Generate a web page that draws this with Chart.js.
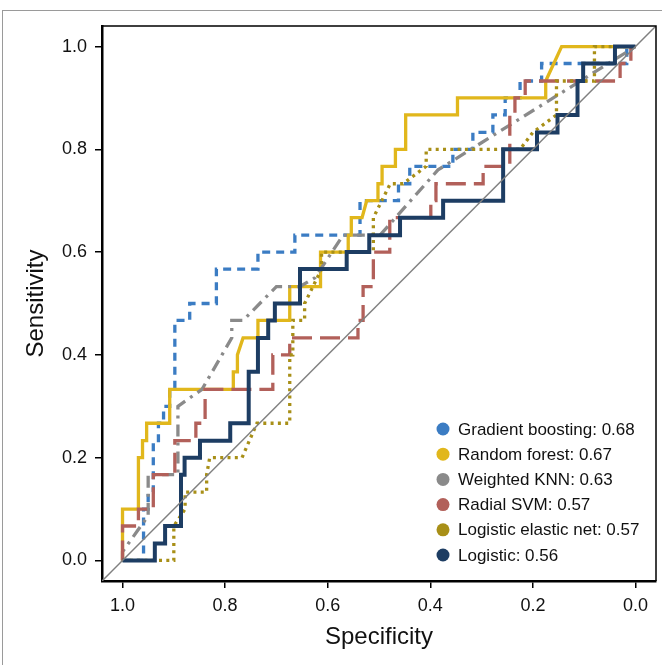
<!DOCTYPE html>
<html>
<head>
<meta charset="utf-8">
<script src="https://cdn.jsdelivr.net/npm/chart.js@4.4.1/dist/chart.umd.min.js"></script>
<style>
  html, body { margin: 0; padding: 0; background: #fff; }
  #wrap { position: relative; width: 662px; height: 665px; }
  #edge {
    position: absolute; left: 2px; top: 10px; right: 0; bottom: 0;
    border-top: 1px solid #9a9a9a; border-left: 1px solid #9a9a9a;
    pointer-events: none;
  }
</style>
</head>
<body>
<div id="wrap">
  <canvas id="rocChart" width="662" height="665"></canvas>
  <div id="edge"></div>
</div>
<script>
// ROC curves (specificity, sensitivity)
const modelNames = ["Gradient boosting", "Random forest", "Weighted KNN", "Radial SVM", "Logistic elastic net", "Logistic"];
const aucValues = [0.68, 0.67, 0.63, 0.57, 0.57, 0.56];
const modelColors = ["#3b7cc3", "#e1b71c", "#8a8a8a", "#b2605a", "#a88f17", "#1d3d63"];

const gbSpec = [1, 0.959, 0.959, 0.95, 0.95, 0.94, 0.94, 0.93, 0.93, 0.92, 0.92, 0.908, 0.908, 0.898, 0.898, 0.869, 0.869, 0.817, 0.817, 0.736, 0.736, 0.664, 0.664, 0.537, 0.537, 0.462, 0.462, 0.44, 0.44, 0.356, 0.356, 0.317, 0.317, 0.278, 0.278, 0.254, 0.254, 0.225, 0.225, 0.183, 0.183, 0.017, 0.017, 0];
const gbSens = [0, 0, 0.1, 0.1, 0.133, 0.133, 0.233, 0.233, 0.267, 0.267, 0.3, 0.3, 0.333, 0.333, 0.467, 0.467, 0.5, 0.5, 0.567, 0.567, 0.6, 0.6, 0.633, 0.633, 0.7, 0.7, 0.733, 0.733, 0.767, 0.767, 0.8, 0.8, 0.833, 0.833, 0.867, 0.867, 0.9, 0.9, 0.933, 0.933, 0.967, 0.967, 1, 1];

const rfSpec = [1, 1, 0.969, 0.969, 0.961, 0.961, 0.953, 0.953, 0.908, 0.908, 0.784, 0.784, 0.776, 0.776, 0.765, 0.736, 0.736, 0.674, 0.674, 0.614, 0.614, 0.56, 0.56, 0.554, 0.554, 0.533, 0.524, 0.502, 0.502, 0.494, 0.494, 0.468, 0.468, 0.448, 0.448, 0.347, 0.347, 0.175, 0.175, 0.144, 0];
const rfSens = [0, 0.1, 0.1, 0.2, 0.2, 0.233, 0.233, 0.267, 0.267, 0.333, 0.333, 0.367, 0.367, 0.4, 0.433, 0.433, 0.467, 0.467, 0.533, 0.533, 0.6, 0.6, 0.633, 0.633, 0.667, 0.667, 0.7, 0.7, 0.733, 0.733, 0.767, 0.767, 0.8, 0.8, 0.867, 0.867, 0.9, 0.9, 0.933, 1, 1];

const knnSpec = [1, 1, 0.95, 0.95, 0.892, 0.892, 0.845, 0.787, 0.787, 0.765, 0.7, 0.654, 0.625, 0.57, 0.498, 0.385, 0];
const knnSens = [0, 0.017, 0.087, 0.167, 0.167, 0.3, 0.333, 0.433, 0.467, 0.467, 0.533, 0.533, 0.55, 0.633, 0.633, 0.76, 1];

const svmSpec = [1, 1, 0.969, 0.969, 0.94, 0.94, 0.898, 0.898, 0.857, 0.857, 0.839, 0.839, 0.707, 0.707, 0.674, 0.674, 0.541, 0.541, 0.531, 0.531, 0.511, 0.511, 0.479, 0.479, 0.399, 0.399, 0.389, 0.389, 0.297, 0.297, 0.245, 0.245, 0.235, 0.235, 0.215, 0.215, 0.03, 0.03, 0.009, 0.009, 0];
const svmSens = [0, 0.067, 0.067, 0.1, 0.1, 0.167, 0.167, 0.233, 0.233, 0.267, 0.267, 0.333, 0.333, 0.4, 0.4, 0.433, 0.433, 0.467, 0.467, 0.533, 0.533, 0.6, 0.6, 0.667, 0.667, 0.7, 0.7, 0.733, 0.733, 0.767, 0.767, 0.867, 0.867, 0.9, 0.9, 0.933, 0.933, 0.967, 0.967, 1, 1];

const enetSpec = [1, 0.9, 0.9, 0.878, 0.878, 0.836, 0.836, 0.83, 0.767, 0.738, 0.674, 0.674, 0.668, 0.668, 0.645, 0.645, 0.612, 0.612, 0.511, 0.511, 0.478, 0.453, 0.408, 0.408, 0.225, 0.2, 0.154, 0.154, 0.08, 0.08, 0];
const enetSens = [0, 0, 0.067, 0.1, 0.133, 0.133, 0.167, 0.2, 0.2, 0.267, 0.267, 0.4, 0.4, 0.467, 0.467, 0.5, 0.567, 0.6, 0.6, 0.667, 0.733, 0.733, 0.767, 0.8, 0.8, 0.833, 0.867, 0.933, 0.933, 1, 1];

const logSpec = [1, 0.937, 0.937, 0.917, 0.917, 0.886, 0.886, 0.879, 0.879, 0.849, 0.849, 0.79, 0.79, 0.754, 0.754, 0.736, 0.736, 0.716, 0.716, 0.703, 0.703, 0.654, 0.654, 0.563, 0.563, 0.519, 0.519, 0.459, 0.459, 0.375, 0.375, 0.258, 0.258, 0.192, 0.192, 0.152, 0.152, 0.113, 0.113, 0.102, 0.102, 0.04, 0.04, 0];
const logSens = [0, 0, 0.033, 0.033, 0.067, 0.067, 0.167, 0.167, 0.2, 0.2, 0.233, 0.233, 0.267, 0.267, 0.367, 0.367, 0.433, 0.433, 0.467, 0.467, 0.5, 0.5, 0.567, 0.567, 0.6, 0.6, 0.633, 0.633, 0.667, 0.667, 0.7, 0.7, 0.8, 0.8, 0.833, 0.833, 0.867, 0.867, 0.933, 0.933, 0.967, 0.967, 1, 1];

// chance line, corner to corner of the plot region
const chanceSpec = [1.04, -0.04];
const chanceSens = [-0.04, 1.04];

const tickValues = [0, 0.2, 0.4, 0.6, 0.8, 1];

const curveSpecs = [gbSpec, rfSpec, knnSpec, svmSpec, enetSpec, logSpec];
const curveSens = [gbSens, rfSens, knnSens, svmSens, enetSens, logSens];
const curveDashes = [[8, 6], [], [12, 6, 3, 6], [20, 8], [3, 4.3], []];
const curveWidths = [3.3, 3.3, 3.3, 3.3, 3.3, 4];

const FONT = '"Liberation Sans", Arial, sans-serif';

function toPoints(xs, ys) {
  return xs.map((x, i) => ({ x: x, y: ys[i] }));
}

const datasets = modelNames.map((name, i) => ({
  label: name,
  data: toPoints(curveSpecs[i], curveSens[i]),
  borderColor: modelColors[i],
  borderWidth: curveWidths[i],
  borderDash: curveDashes[i],
  borderJoinStyle: "miter",
  showLine: true,
  pointRadius: 0,
  order: modelNames.length - i,
}));

datasets.push({
  label: "chance",
  data: toPoints(chanceSpec, chanceSens),
  borderColor: "#808080",
  borderWidth: 1.5,
  showLine: true,
  pointRadius: 0,
  order: 0,
});

// thin top/right edges of the plot box
const framePlugin = {
  id: "frame",
  afterDraw(chart) {
    const { ctx, chartArea } = chart;
    ctx.save();
    ctx.strokeStyle = "#000";
    ctx.lineWidth = 1.5;
    ctx.beginPath();
    ctx.moveTo(chartArea.left, chartArea.top);
    ctx.lineTo(chartArea.right, chartArea.top);
    ctx.lineTo(chartArea.right, chartArea.bottom);
    ctx.stroke();
    ctx.restore();
  },
};

// legend sits inside the plot, bottom right
const cornerLegend = {
  id: "cornerLegend",
  afterDraw(chart) {
    const { ctx, chartArea } = chart;
    const x0 = chartArea.right - 213;
    const y0 = chartArea.bottom - 152;
    ctx.save();
    ctx.font = "17px " + FONT;
    ctx.textBaseline = "middle";
    ctx.textAlign = "left";
    modelNames.forEach((name, i) => {
      const y = y0 + i * 25.2;
      ctx.beginPath();
      ctx.arc(x0, y, 6.5, 0, Math.PI * 2);
      ctx.fillStyle = modelColors[i];
      ctx.fill();
      ctx.fillStyle = "#111";
      ctx.fillText(name + ": " + aucValues[i].toFixed(2), x0 + 15, y + 1);
    });
    ctx.restore();
  },
};

const ctx = document.getElementById("rocChart").getContext("2d");
new Chart(ctx, {
  type: "scatter",
  data: { datasets: datasets },
  plugins: [framePlugin, cornerLegend],
  options: {
    responsive: false,
    animation: false,
    devicePixelRatio: 1,
    events: [],
    layout: { padding: { top: 26, right: 6, left: 0, bottom: 0 } },
    elements: { line: { tension: 0 } },
    plugins: {
      legend: { display: false },
      tooltip: { enabled: false },
    },
    scales: {
      x: {
        type: "linear",
        reverse: true,
        min: -0.04,
        max: 1.04,
        afterFit: (s) => { s.height = 84; },
        afterBuildTicks: (s) => { s.ticks = tickValues.map((v) => ({ value: v })); },
        ticks: {
          color: "#111",
          font: { family: FONT, size: 18 },
          padding: 7,
          maxRotation: 0,
          callback: (v) => Number(v).toFixed(1),
        },
        grid: { drawOnChartArea: false, drawTicks: true, tickLength: 7, color: "#000", lineWidth: 1.5 },
        border: { display: true, color: "#000", width: 2.5 },
        title: {
          display: true,
          text: "Specificity",
          color: "#111",
          font: { family: FONT, size: 24 },
          padding: { top: 0, bottom: 13 },
        },
      },
      y: {
        type: "linear",
        min: -0.04,
        max: 1.04,
        afterFit: (s) => { s.width = 102; },
        afterBuildTicks: (s) => { s.ticks = tickValues.map((v) => ({ value: v })); },
        ticks: {
          color: "#111",
          font: { family: FONT, size: 18 },
          padding: 8,
          callback: (v) => Number(v).toFixed(1),
        },
        grid: { drawOnChartArea: false, drawTicks: true, tickLength: 7, color: "#000", lineWidth: 1.5 },
        border: { display: true, color: "#000", width: 2.5 },
        title: {
          display: true,
          text: "Sensitivity",
          color: "#111",
          font: { family: FONT, size: 24 },
          padding: { top: 22, bottom: 0 },
        },
      },
    },
  },
});
</script>
</body>
</html>
